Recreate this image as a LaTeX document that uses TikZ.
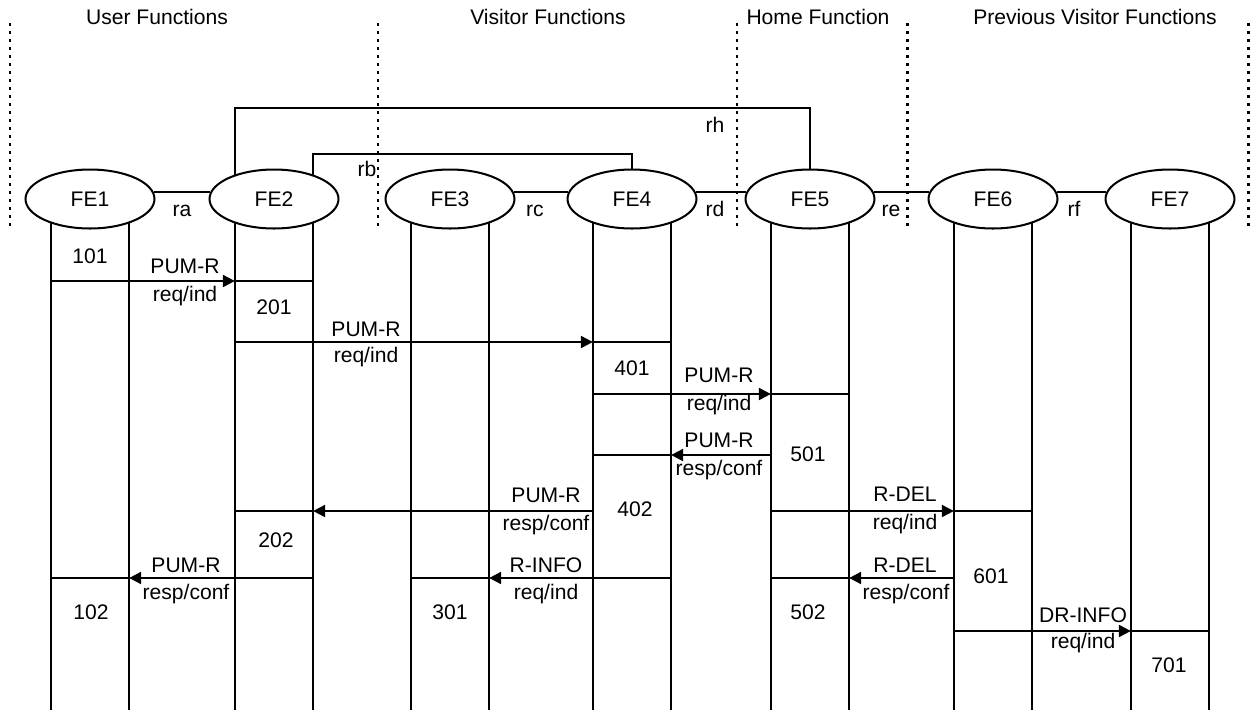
\documentclass[tikz,border=0pt]{standalone}
\usepackage{fontspec}
\setmainfont{Liberation Sans}
\usetikzlibrary{arrows.meta,shapes.geometric}

\tikzset{
	txt/.style={inner sep=0pt,font=\fontsize{12}{14}\selectfont,text height=8.6pt,text depth=0pt},
	fe/.style={txt,draw,ellipse,line width=1.15pt,minimum width=2.58cm,minimum height=1.18cm},
	wire/.style={line width=1.15pt},
	msg/.style={line width=1.15pt,-{Triangle[length=6.8pt,width=6.8pt]}},
	sep/.style={line width=1.7pt,dash pattern=on 1.7pt off 2.85pt}
}

\begin{document}
\begin{tikzpicture}[x=0.02cm,y=-0.02cm]
	\useasboundingbox (0,0) rectangle (1252,711);
	% headings and dotted borders
	\node[txt] (user) at (157,17) {User Functions};
	\node[txt] (visitor) at (548,17) {Visitor Functions};
	\node[txt] (home) at (818,17) {Home Function};
	\node[txt] (previous) at (1095,17) {Previous Visitor Functions};
	\draw[sep] (10,23) -- (10,226);
	\draw[sep] (378,23) -- (378,226);
	\draw[sep] (737,23) -- (737,226);
	\draw[sep] (907,23) -- (907,226);
	\draw[sep] (1248,23) -- (1248,226);
	% functional entities
	\node[fe] (FE1) at (90,199) {FE1};
	\node[fe] (FE2) at (274,199) {FE2};
	\node[fe] (FE3) at (450,199) {FE3};
	\node[fe] (FE4) at (632,199) {FE4};
	\node[fe] (FE5) at (810,199) {FE5};
	\node[fe] (FE6) at (993,199) {FE6};
	\node[fe] (FE7) at (1170,199) {FE7};
	% relationships
	\draw[wire] (FE1.6) -- (FE2.174);
	\draw[wire] (FE3.6) -- (FE4.174);
	\draw[wire] (FE4.6) -- (FE5.174);
	\draw[wire] (FE5.6) -- (FE6.174);
	\draw[wire] (FE6.6) -- (FE7.174);
	\draw[wire] (FE2.148) -- ++(0,-67) -| (FE5.north);
	\draw[wire] (FE2.32) -- ++(0,-21) -| (FE4.north);
	\node[txt] (ra) at (182,208.5) {ra};
	\node[txt] (rb) at (367,168.5) {rb};
	\node[txt] (rc) at (535,208.5) {rc};
	\node[txt] (rd) at (715,208.5) {rd};
	\node[txt] (re) at (891,208.5) {re};
	\node[txt] (rf) at (1074,208.5) {rf};
	\node[txt] (rh) at (715,124.5) {rh};
	% lifelines
	\coordinate (bot) at (0,710);
	\draw[wire] (FE1.212) -- (FE1.212 |- bot);
	\draw[wire] (FE1.328) -- (FE1.328 |- bot);
	\draw[wire] (FE2.212) -- (FE2.212 |- bot);
	\draw[wire] (FE2.328) -- (FE2.328 |- bot);
	\draw[wire] (FE3.212) -- (FE3.212 |- bot);
	\draw[wire] (FE3.328) -- (FE3.328 |- bot);
	\draw[wire] (FE4.212) -- (FE4.212 |- bot);
	\draw[wire] (FE4.328) -- (FE4.328 |- bot);
	\draw[wire] (FE5.212) -- (FE5.212 |- bot);
	\draw[wire] (FE5.328) -- (FE5.328 |- bot);
	\draw[wire] (FE6.212) -- (FE6.212 |- bot);
	\draw[wire] (FE6.328) -- (FE6.328 |- bot);
	\draw[wire] (FE7.212) -- (FE7.212 |- bot);
	\draw[wire] (FE7.328) -- (FE7.328 |- bot);
	% message rows
	\coordinate (s1) at (0,281);
	\coordinate (s2) at (0,342);
	\coordinate (s3) at (0,394);
	\coordinate (s4) at (0,455);
	\coordinate (s5) at (0,511);
	\coordinate (s6) at (0,578);
	\coordinate (s7) at (0,631);
	% FE1 -> FE2
	\draw[msg] (FE1.212 |- s1) -- (FE2.212 |- s1);
	\draw[wire] (FE2.212 |- s1) -- (FE2.328 |- s1);
	\node[txt] (m1a) at (185,265.5) {PUM-R};
	\node[txt] (m1b) at (185,294) {req/ind};
	% FE2 -> FE4
	\draw[msg] (FE2.212 |- s2) -- (FE4.212 |- s2);
	\draw[wire] (FE4.212 |- s2) -- (FE4.328 |- s2);
	\node[txt] (m2a) at (366,328.5) {PUM-R};
	\node[txt] (m2b) at (366,355) {req/ind};
	% FE4 -> FE5
	\draw[msg] (FE4.212 |- s3) -- (FE5.212 |- s3);
	\draw[wire] (FE5.212 |- s3) -- (FE5.328 |- s3);
	\node[txt] (m3a) at (719,374.5) {PUM-R};
	\node[txt] (m3b) at (719,402.5) {req/ind};
	% FE5 -> FE4
	\draw[msg] (FE5.212 |- s4) -- (FE4.328 |- s4);
	\draw[wire] (FE4.328 |- s4) -- (FE4.212 |- s4);
	\node[txt] (m4a) at (719,440) {PUM-R};
	\node[txt] (m4b) at (719,467.5) {resp/conf};
	% FE4 -> FE2
	\draw[msg] (FE4.212 |- s5) -- (FE2.328 |- s5);
	\draw[wire] (FE2.328 |- s5) -- (FE2.212 |- s5);
	\node[txt] (m5a) at (546,494.5) {PUM-R};
	\node[txt] (m5b) at (546,522.5) {resp/conf};
	% FE2 -> FE1
	\draw[msg] (FE2.328 |- s6) -- (FE1.328 |- s6);
	\draw[wire] (FE1.328 |- s6) -- (FE1.212 |- s6);
	\node[txt] (m6a) at (186,565) {PUM-R};
	\node[txt] (m6b) at (186,591.5) {resp/conf};
	% FE4 -> FE3
	\draw[msg] (FE4.328 |- s6) -- (FE3.328 |- s6);
	\draw[wire] (FE3.328 |- s6) -- (FE3.212 |- s6);
	\node[txt] (m7a) at (546,565) {R-INFO};
	\node[txt] (m7b) at (546,591.5) {req/ind};
	% FE5 -> FE6
	\draw[msg] (FE5.212 |- s5) -- (FE6.212 |- s5);
	\draw[wire] (FE6.212 |- s5) -- (FE6.328 |- s5);
	\node[txt] (m8a) at (905,493.5) {R-DEL};
	\node[txt] (m8b) at (905,521.5) {req/ind};
	% FE6 -> FE5
	\draw[msg] (FE6.212 |- s6) -- (FE5.328 |- s6);
	\draw[wire] (FE5.328 |- s6) -- (FE5.212 |- s6);
	\node[txt] (m9a) at (905,564.5) {R-DEL};
	\node[txt] (m9b) at (906,591.5) {resp/conf};
	% FE6 -> FE7
	\draw[msg] (FE6.212 |- s7) -- (FE7.212 |- s7);
	\draw[wire] (FE7.212 |- s7) -- (FE7.328 |- s7);
	\node[txt] (m10a) at (1083,614.5) {DR-INFO};
	\node[txt] (m10b) at (1083,640.5) {req/ind};
	% actions
	\node[txt] (n101) at (90,255.5) {101};
	\node[txt] (n102) at (91,611.5) {102};
	\node[txt] (n201) at (274,307) {201};
	\node[txt] (n202) at (276,540) {202};
	\node[txt] (n301) at (450,611.5) {301};
	\node[txt] (n401) at (632,368) {401};
	\node[txt] (n402) at (635,509) {402};
	\node[txt] (n501) at (808,454) {501};
	\node[txt] (n502) at (808,611.5) {502};
	\node[txt] (n601) at (991,575.5) {601};
	\node[txt] (n701) at (1169,664.5) {701};
\end{tikzpicture}
\end{document}
